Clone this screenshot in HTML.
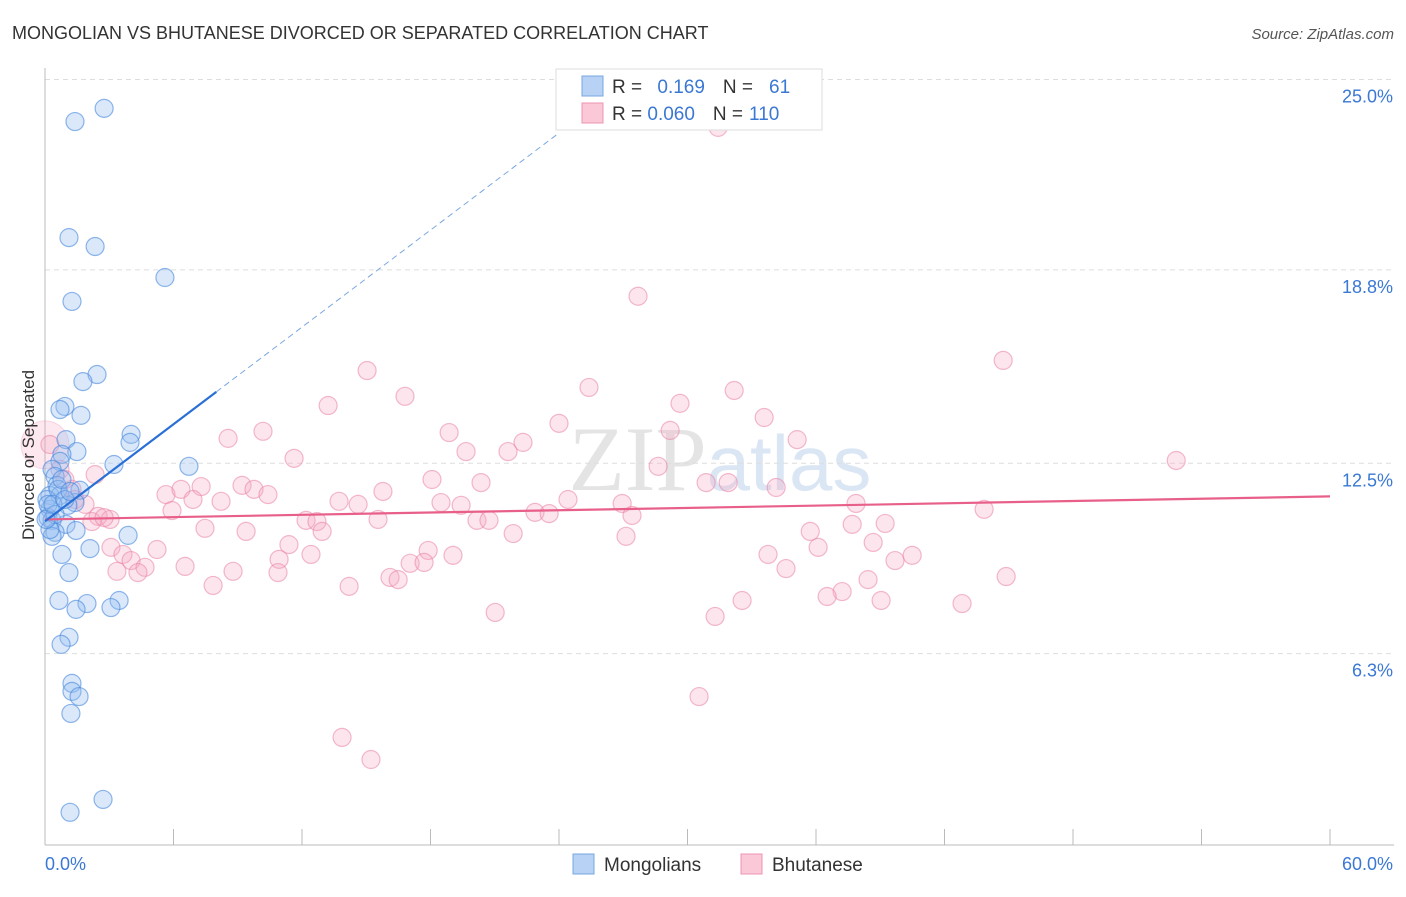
<!DOCTYPE html>
<html><head><meta charset="utf-8"><style>
body{margin:0;background:#fff;font-family:"Liberation Sans",sans-serif}
</style></head><body>
<svg id="chart" width="1406" height="892" xmlns="http://www.w3.org/2000/svg" font-family="Liberation Sans, sans-serif">
<text x="12" y="39" font-size="18" fill="#333">MONGOLIAN VS BHUTANESE DIVORCED OR SEPARATED CORRELATION CHART</text>
<text x="1394" y="39" font-size="15" fill="#555" font-style="italic" text-anchor="end">Source: ZipAtlas.com</text>
<text x="720" y="490" font-size="92" fill="#e4e4e4" text-anchor="middle" font-family="Liberation Serif, serif">ZIP<tspan fill="#dbe6f4" font-family="Liberation Sans, sans-serif" font-size="78">atlas</tspan></text>
<g id="grid"></g>
<g id="axes"></g>
<g id="marks"></g>
<g>
<rect x="556" y="69" width="266" height="61" fill="#fff" stroke="#ddd"/>
<rect x="582" y="76" width="21" height="20" fill="#b7d2f5" stroke="#7aa7e0"/>
<rect x="582" y="103" width="21" height="20" fill="#fac8d7" stroke="#ec95b0"/>
<text x="612" y="93" font-size="19" fill="#333">R = <tspan fill="#3a78d4" dx="10">0.169</tspan><tspan fill="#333" dx="18">N =</tspan><tspan fill="#3a78d4" dx="16">61</tspan></text>
<text x="612" y="120" font-size="19" fill="#333">R = <tspan fill="#3a78d4">0.060</tspan><tspan fill="#333" dx="18">N =</tspan><tspan fill="#3a78d4" dx="6">110</tspan></text>
</g>
<text transform="translate(34,455) rotate(-90)" font-size="17" fill="#333" text-anchor="middle">Divorced or Separated</text>
<g>
<rect x="573" y="854" width="21" height="20" fill="#b7d2f5" stroke="#7aa7e0"/>
<text x="604" y="871" font-size="19" fill="#333">Mongolians</text>
<rect x="741" y="854" width="21" height="20" fill="#fac8d7" stroke="#ec95b0"/>
<text x="772" y="871" font-size="19" fill="#333">Bhutanese</text>
</g>
</svg>
<script>
const yTicks=[25.0,18.8,12.5,6.3];
const yTickLabels=["25.0%","18.8%","12.5%","6.3%"];
const xTickLabels=["0.0%","60.0%"];
const blueX=[1.40,2.76,1.12,2.34,5.60,1.26,2.43,1.77,0.93,0.70,1.68,0.98,4.02,3.97,1.49,0.79,0.70,6.72,3.22,0.33,0.47,0.56,1.63,0.23,0.70,1.40,1.07,0.23,0.14,0.33,0.98,1.45,0.47,0.33,3.88,2.10,0.79,1.12,0.65,1.96,3.46,1.45,3.08,1.12,0.75,1.26,1.26,1.59,1.21,2.71,1.17,0.09,0.14,0.47,0.61,0.79,0.23,0.05,0.37,0.93,1.17];
const blueY=[23.63,24.06,19.85,19.56,18.55,17.77,15.39,15.16,14.35,14.25,14.06,13.27,13.44,13.18,12.88,12.79,12.56,12.40,12.46,12.30,12.07,11.78,11.62,11.45,11.45,11.22,11.13,11.00,10.73,10.64,10.51,10.31,10.25,10.12,10.15,9.72,9.53,8.94,8.03,7.93,8.03,7.74,7.80,6.83,6.60,5.33,5.07,4.90,4.35,1.55,1.13,11.32,11.16,10.83,11.65,11.97,10.34,10.67,11.16,11.32,11.58];
const pinkX=[31.43,27.69,44.74,15.04,25.40,32.18,16.81,29.65,13.22,33.58,24.00,18.87,29.19,10.18,8.55,35.12,22.32,21.62,19.66,11.63,52.82,28.63,18.07,20.36,30.87,31.90,34.14,9.20,7.29,9.76,10.41,5.65,6.35,8.22,6.91,15.78,24.42,26.95,13.73,14.62,18.49,19.43,37.87,43.85,5.93,22.88,23.54,27.41,12.19,12.70,20.17,20.73,15.55,37.69,39.23,7.47,9.39,12.94,35.73,21.86,27.13,11.39,38.67,36.10,3.08,5.23,3.64,12.42,33.76,40.49,17.89,19.05,39.69,4.02,6.54,17.05,10.93,17.70,4.67,3.36,4.34,8.78,10.88,34.60,44.88,16.11,16.49,38.43,7.85,14.20,37.22,36.52,32.55,39.04,42.82,21.02,31.29,30.54,13.87,15.22,2.34,0.70,1.26,2.48,1.87,3.04,0.23,0.93,2.19,2.76,1.40];
const pinkY=[23.44,17.94,15.85,15.52,14.97,14.87,14.68,14.45,14.38,13.99,13.80,13.50,13.57,13.54,13.31,13.27,13.18,12.88,12.88,12.66,12.59,12.40,11.97,11.87,11.87,11.87,11.71,11.78,11.74,11.65,11.48,11.48,11.65,11.26,11.32,11.58,11.32,11.19,11.26,11.16,11.22,11.13,11.19,11.00,10.96,10.90,10.86,10.80,10.64,10.60,10.64,10.64,10.67,10.51,10.54,10.38,10.28,10.28,10.28,10.21,10.12,9.85,9.92,9.76,9.76,9.69,9.53,9.53,9.53,9.50,9.66,9.50,9.33,9.33,9.14,9.24,9.37,9.27,9.11,8.98,8.94,8.98,8.94,9.07,8.81,8.78,8.71,8.71,8.52,8.49,8.32,8.16,8.03,8.03,7.93,7.64,7.51,4.90,3.57,2.85,12.13,12.30,11.65,10.77,11.16,10.67,13.11,11.97,10.60,10.73,11.32];
const blueTrend=[10.61,0.527];
const pinkTrend=[10.67,0.0125];
const NS="http://www.w3.org/2000/svg";
const X0=45,X1=1330,XMAX=60,Y0=845,YPX=30.7;
function sx(v){return X0+(X1-X0)*v/XMAX;}
function sy(v){return Y0-(v)*YPX+2;}
function mk(tag,attrs,parent){const e=document.createElementNS(NS,tag);for(const k in attrs)e.setAttribute(k,attrs[k]);parent.appendChild(e);return e;}
const grid=document.getElementById('grid'),axes=document.getElementById('axes'),marks=document.getElementById('marks');
yTicks.forEach((t,i)=>{
 const g=mk('line',{x1:X0,x2:1394,y1:sy(t),y2:sy(t),stroke:'#ddd','stroke-dasharray':'5,4'},grid);
 
 
 const l=mk('text',{x:1393,y:sy(t)+23,'font-size':18,fill:'#3a78d4','text-anchor':'end'},axes);
 l.textContent=yTickLabels[i];
 
 
});
const ya=mk('line',{x1:X0,x2:X0,y1:68,y2:Y0,stroke:'#bbb'},axes);


const xa=mk('line',{x1:X0,x2:1394,y1:Y0,y2:Y0,stroke:'#bbb'},axes);


for(let v=0;v<=60;v+=6){
 const t=mk('line',{x1:sx(v),x2:sx(v),y1:829,y2:Y0,stroke:'#bbb'},axes);
 
 
}
[[0,'start',45],[60,'end',1393]].forEach((d,i)=>{
 const l=mk('text',{x:d[2],y:870,'font-size':18,fill:'#3a78d4','text-anchor':d[1]},axes);
 l.textContent=xTickLabels[i];
 
 
});
const big=mk('circle',{cx:sx(0),cy:sy(13.1),r:24,fill:'rgba(244,150,180,0.22)',stroke:'rgba(236,120,160,0.25)'},marks);


pinkX.forEach((x,i)=>{
 const c=mk('circle',{cx:sx(x),cy:sy(pinkY[i]),r:9,fill:'rgba(246,170,195,0.3)',stroke:'rgba(234,130,165,0.55)','stroke-width':1.2},marks);
 
 
});
blueX.forEach((x,i)=>{
 const c=mk('circle',{cx:sx(x),cy:sy(blueY[i]),r:9,fill:'rgba(150,190,240,0.35)',stroke:'rgba(70,135,220,0.6)','stroke-width':1.2},marks);
 
 
});
const pl=mk('line',{x1:sx(0),y1:sy(pinkTrend[0]),x2:sx(60),y2:sy(pinkTrend[0]+pinkTrend[1]*60),stroke:'#e8608a','stroke-width':2.2},marks);


const bl=mk('line',{x1:sx(0),y1:sy(blueTrend[0]),x2:sx(8),y2:sy(blueTrend[0]+blueTrend[1]*8),stroke:'#2a6fd6','stroke-width':2.2},marks);


const bd=mk('line',{x1:sx(8),y1:sy(blueTrend[0]+blueTrend[1]*8),x2:sx(24),y2:sy(blueTrend[0]+blueTrend[1]*24),stroke:'#7aa7e0','stroke-width':1,'stroke-dasharray':'6,4'},marks);


</script>
</body></html>
